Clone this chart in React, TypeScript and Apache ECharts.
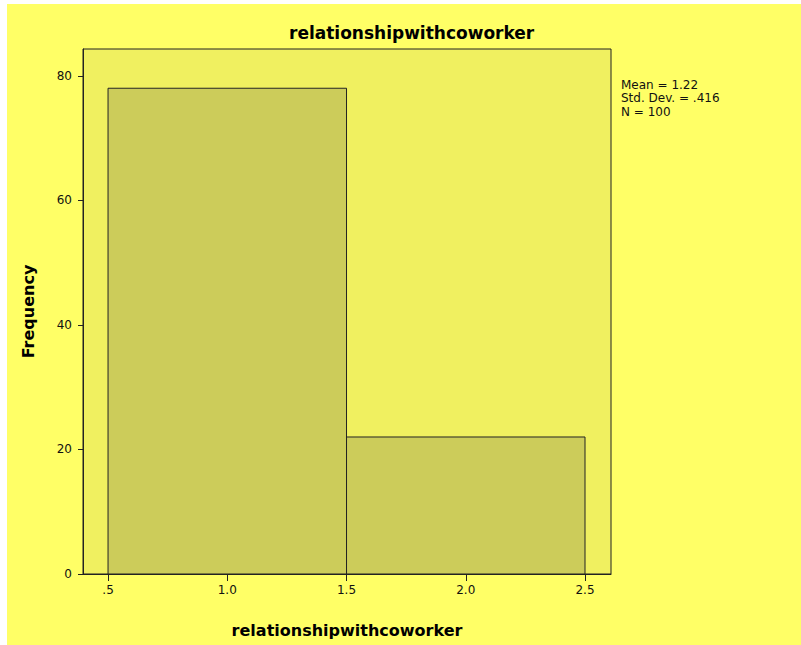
import React, { useEffect, useRef } from "react";
import * as echarts from "echarts";

const binStarts = [0.5, 1.5];
const binEnds = [1.5, 2.5];
const frequencies = [78, 22];
const xTickValues = [0.5, 1.0, 1.5, 2.0, 2.5];
const xTickLabels = [".5", "1.0", "1.5", "2.0", "2.5"];
const yTickValues = [0, 20, 40, 60, 80];
const statsLines = ["Mean = 1.22", "Std. Dev. = .416", "N = 100"];
const chartTitle = "relationshipwithcoworker";
const xTitle = "relationshipwithcoworker";
const yTitle = "Frequency";

const FONT = "'DejaVu Sans', sans-serif";

export default function App() {
  const ref = useRef<HTMLDivElement>(null);
  useEffect(() => {
    if (!ref.current) return;
    const chart = echarts.init(ref.current, undefined, { renderer: "svg" });
    const data = binStarts.map((s, i) => [s, binEnds[i], frequencies[i]]);
    chart.setOption({
      animation: false,
      backgroundColor: "#ffffff",
      textStyle: { fontFamily: FONT },
      graphic: [
        {
          type: "rect",
          z: -10,
          silent: true,
          shape: { x: 7, y: 4, width: 794, height: 641 },
          style: { fill: "#ffff66" },
        },
        {
          type: "text",
          left: 621,
          top: 78,
          style: {
            text: statsLines.join("\n"),
            fontSize: 12,
            lineHeight: 13.5,
            fill: "#111",
            fontFamily: FONT,
          },
        },
      ],
      title: {
        text: chartTitle,
        left: 284,
        top: 19,
        textStyle: { fontSize: 17, fontWeight: "bold", color: "#000", fontFamily: FONT },
      },
      grid: {
        left: 83,
        top: 49,
        right: 190,
        bottom: 71,
        show: true,
        backgroundColor: "#f0f060",
        borderColor: "#222",
        borderWidth: 1,
      },
      xAxis: {
        type: "value",
        min: 0.395,
        max: 2.609,
        name: xTitle,
        nameLocation: "middle",
        nameGap: 48,
        nameTextStyle: { fontSize: 16, fontWeight: "bold", color: "#000", fontFamily: FONT },
        splitLine: { show: false },
        axisLine: { show: true, lineStyle: { color: "#222", width: 1 } },
        axisTick: {
          show: true,
          length: 7,
          customValues: xTickValues,
          lineStyle: { color: "#222" },
        },
        axisLabel: {
          customValues: xTickValues,
          margin: 10,
          fontSize: 12,
          color: "#111",
          fontFamily: FONT,
          formatter: (v: number) => {
            const i = xTickValues.findIndex((t) => Math.abs(t - v) < 1e-6);
            return i >= 0 ? xTickLabels[i] : "";
          },
        },
      },
      yAxis: {
        type: "value",
        min: 0,
        max: 84.3,
        name: yTitle,
        nameLocation: "middle",
        nameGap: 47,
        nameTextStyle: { fontSize: 16, fontWeight: "bold", color: "#000", fontFamily: FONT },
        splitLine: { show: false },
        axisLine: { show: true, lineStyle: { color: "#222", width: 1 } },
        axisTick: {
          show: true,
          length: 5,
          customValues: yTickValues,
          lineStyle: { color: "#222" },
        },
        axisLabel: {
          customValues: yTickValues,
          margin: 11,
          fontSize: 12,
          color: "#111",
          fontFamily: FONT,
        },
      },
      series: [
        {
          type: "custom",
          data,
          encode: { x: [0, 1], y: 2 },
          renderItem: (params: any, api: any) => {
            const p0 = api.coord([api.value(0), api.value(2)]);
            const p1 = api.coord([api.value(1), 0]);
            return {
              type: "rect",
              shape: { x: p0[0], y: p0[1], width: p1[0] - p0[0], height: p1[1] - p0[1] },
              style: { fill: "#cccc5a", stroke: "#222", lineWidth: 1 },
            };
          },
        },
      ],
    });
    return () => chart.dispose();
  }, []);
  return (
    <div
      ref={ref}
      style={{ position: "absolute", left: 0, top: 0, width: 801, height: 645 }}
    />
  );
}
